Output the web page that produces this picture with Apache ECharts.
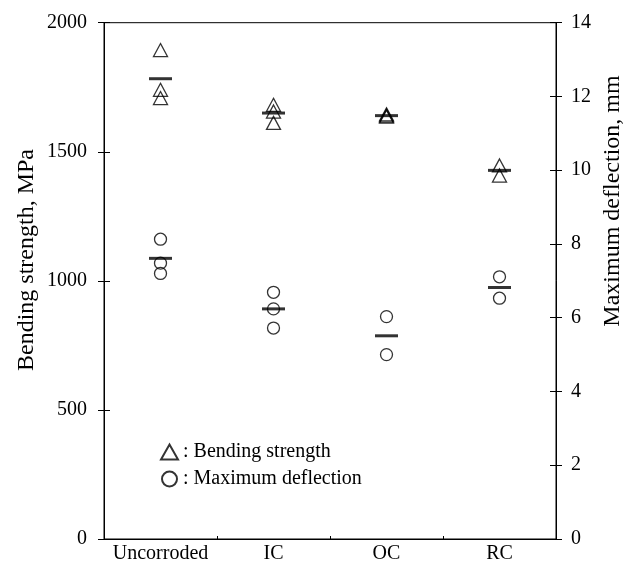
<!DOCTYPE html>
<html>
<head>
<meta charset="utf-8">
<script src="https://cdn.jsdelivr.net/npm/echarts@6/dist/echarts.min.js"></script>
<style>html,body{margin:0;padding:0;background:#fff}#c{width:633px;height:564px}</style>
</head>
<body>
<div id="c"></div>
<script>
var categories = ['Uncorroded', 'IC', 'OC', 'RC'];
var strengthValues = [[1894, 1740, 1708], [1682, 1656, 1612], [1645, 1640, 1636], [1447, 1408]];
var deflectionValues = [[8.13, 7.48, 7.20], [6.69, 6.24, 5.72], [6.03, 5.00], [7.11, 6.53]];
var strengthMeans = [1783, 1650, 1640, 1428];
var deflectionMeans = [7.61, 6.24, 5.51, 6.82];
var leftTicks = [0, 500, 1000, 1500, 2000];
var rightTicks = [0, 2, 4, 6, 8, 10, 12, 14];

function pts(groups) {
  var out = [];
  groups.forEach(function (g, i) { g.forEach(function (v) { out.push([i, v]); }); });
  return out;
}
function meanPts(arr) { return arr.map(function (v, i) { return [i, v]; }); }

var FONT = 'Liberation Serif';
var chart = echarts.init(document.getElementById('c'));
var tickBase = { show: true, length: 6, lineStyle: { color: '#000', width: 1 } };
chart.setOption({
  backgroundColor: '#fff',
  animation: false,
  textStyle: { fontFamily: FONT },
  grid: { left: 104, right: 77, top: 22.7, bottom: 23.3, show: true, borderColor: '#000', borderWidth: 1, backgroundColor: 'transparent' },
  legend: {
    orient: 'vertical', left: 155, top: 437, itemGap: 7, itemWidth: 17, itemHeight: 15,
    formatter: ': {name}',
    textStyle: { fontFamily: FONT, fontSize: 20, color: '#000' },
    data: ['Bending strength', 'Maximum deflection']
  },
  xAxis: {
    type: 'category', data: categories, boundaryGap: true,
    axisLine: { lineStyle: { color: '#000', width: 1 } },
    axisTick: { show: true, inside: true, length: 3, interval: 0, lineStyle: { color: '#000' } },
    axisLabel: { color: '#000', fontFamily: FONT, fontSize: 20, margin: 5, interval: 0, hideOverlap: false },
    splitLine: { show: false }
  },
  yAxis: [
    { type: 'value', min: 0, max: 2000, interval: 500, position: 'left',
      axisLine: { show: true, lineStyle: { color: '#000' } },
      axisTick: tickBase,
      axisLabel: { color: '#000', fontFamily: FONT, fontSize: 20, margin: 17,
        formatter: function (v) { return leftTicks.indexOf(v) >= 0 ? String(v) : ''; } },
      splitLine: { show: false } },
    { type: 'value', min: 0, max: 14, interval: 2, position: 'right',
      axisLine: { show: true, lineStyle: { color: '#000' } },
      axisTick: tickBase,
      axisLabel: { color: '#000', fontFamily: FONT, fontSize: 20, margin: 15,
        formatter: function (v) { return rightTicks.indexOf(v) >= 0 ? String(v) : ''; } },
      splitLine: { show: false } },
    { type: 'value', min: 0, max: 2000, interval: 500, position: 'left',
      axisLine: { show: false }, axisTick: { show: true, inside: true, length: 6, lineStyle: { color: '#000' } },
      axisLabel: { show: false }, splitLine: { show: false } },
    { type: 'value', min: 0, max: 14, interval: 2, position: 'right',
      axisLine: { show: false }, axisTick: { show: true, inside: true, length: 6, lineStyle: { color: '#000' } },
      axisLabel: { show: false }, splitLine: { show: false } }
  ],
  graphic: [
    { type: 'text', rotation: Math.PI / 2, x: 27, y: 260,
      style: { text: 'Bending strength, MPa', fontFamily: FONT, fontSize: 24, fill: '#000', align: 'center', verticalAlign: 'middle' } },
    { type: 'text', rotation: Math.PI / 2, x: 613, y: 201,
      style: { text: 'Maximum deflection, mm', fontFamily: FONT, fontSize: 24, fill: '#000', align: 'center', verticalAlign: 'middle' } }
  ],
  series: [
    { name: 'Bending strength', type: 'scatter', yAxisIndex: 0, symbol: 'triangle', symbolSize: [14, 13],
      itemStyle: { color: 'transparent', borderColor: '#000', borderWidth: 1.3 },
      data: pts(strengthValues), z: 3 },
    { name: 'Maximum deflection', type: 'scatter', yAxisIndex: 1, symbol: 'circle', symbolSize: 12,
      itemStyle: { color: 'transparent', borderColor: '#000', borderWidth: 1.3 },
      data: pts(deflectionValues), z: 3 },
    { name: 'Strength mean', type: 'scatter', yAxisIndex: 0, symbol: 'rect', symbolSize: [23, 3],
      itemStyle: { color: '#000' }, data: meanPts(strengthMeans), z: 4 },
    { name: 'Deflection mean', type: 'scatter', yAxisIndex: 1, symbol: 'rect', symbolSize: [23, 3],
      itemStyle: { color: '#000' }, data: meanPts(deflectionMeans), z: 4 }
  ]
});
</script>
</body>
</html>
